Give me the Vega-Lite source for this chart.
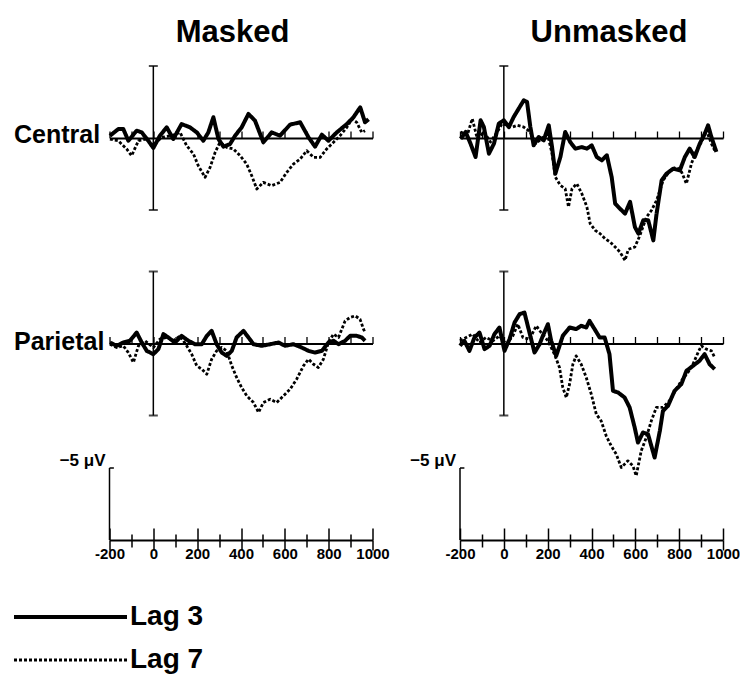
{
  "$schema": "https://vega.github.io/schema/vega-lite/v6.json",
  "background": "white",
  "padding": {"left": 12, "top": 17, "right": 0, "bottom": 0},
  "config": {"view": {"stroke": null}, "font": "Liberation Sans"},
  "datasets": {
    "masked_central": [
      {"lag":"Lag 3","ms":-198,"uv":-0.16},{"lag":"Lag 3","ms":-160,"uv":-0.62},{"lag":"Lag 3","ms":-137,"uv":-0.62},{"lag":"Lag 3","ms":-114,"uv":0.19},{"lag":"Lag 3","ms":-76,"uv":-0.51},{"lag":"Lag 3","ms":-53,"uv":-0.39},{"lag":"Lag 3","ms":-23,"uv":0.19},{"lag":"Lag 3","ms":0,"uv":0.69},{"lag":"Lag 3","ms":30,"uv":-0.16},{"lag":"Lag 3","ms":61,"uv":-0.74},{"lag":"Lag 3","ms":91,"uv":0.07},{"lag":"Lag 3","ms":129,"uv":-0.97},{"lag":"Lag 3","ms":167,"uv":-0.74},{"lag":"Lag 3","ms":198,"uv":-0.39},{"lag":"Lag 3","ms":228,"uv":0.19},{"lag":"Lag 3","ms":251,"uv":-0.39},{"lag":"Lag 3","ms":274,"uv":-1.44},{"lag":"Lag 3","ms":297,"uv":0.07},{"lag":"Lag 3","ms":320,"uv":0.6},{"lag":"Lag 3","ms":350,"uv":0.42},{"lag":"Lag 3","ms":373,"uv":-0.16},{"lag":"Lag 3","ms":403,"uv":-0.74},{"lag":"Lag 3","ms":434,"uv":-1.67},{"lag":"Lag 3","ms":464,"uv":-1.2},{"lag":"Lag 3","ms":502,"uv":0.3},{"lag":"Lag 3","ms":540,"uv":-0.39},{"lag":"Lag 3","ms":578,"uv":-0.16},{"lag":"Lag 3","ms":624,"uv":-0.93},{"lag":"Lag 3","ms":670,"uv":-1.09},{"lag":"Lag 3","ms":708,"uv":-0.05},{"lag":"Lag 3","ms":738,"uv":0.6},{"lag":"Lag 3","ms":769,"uv":-0.23},{"lag":"Lag 3","ms":799,"uv":0.19},{"lag":"Lag 3","ms":837,"uv":-0.39},{"lag":"Lag 3","ms":883,"uv":-0.97},{"lag":"Lag 3","ms":913,"uv":-1.44},{"lag":"Lag 3","ms":944,"uv":-2.13},{"lag":"Lag 3","ms":966,"uv":-1.09},{"lag":"Lag 3","ms":982,"uv":-1.3},
      {"lag":"Lag 7","ms":-198,"uv":0.07},{"lag":"Lag 7","ms":-160,"uv":0.19},{"lag":"Lag 7","ms":-122,"uv":0.76},{"lag":"Lag 7","ms":-99,"uv":1.23},{"lag":"Lag 7","ms":-68,"uv":0.19},{"lag":"Lag 7","ms":-30,"uv":0.07},{"lag":"Lag 7","ms":0,"uv":0.53},{"lag":"Lag 7","ms":38,"uv":-0.05},{"lag":"Lag 7","ms":84,"uv":-0.16},{"lag":"Lag 7","ms":122,"uv":-0.39},{"lag":"Lag 7","ms":152,"uv":0.53},{"lag":"Lag 7","ms":183,"uv":1.11},{"lag":"Lag 7","ms":205,"uv":1.92},{"lag":"Lag 7","ms":236,"uv":2.73},{"lag":"Lag 7","ms":259,"uv":2.04},{"lag":"Lag 7","ms":282,"uv":1.0},{"lag":"Lag 7","ms":304,"uv":0.3},{"lag":"Lag 7","ms":335,"uv":0.65},{"lag":"Lag 7","ms":365,"uv":0.76},{"lag":"Lag 7","ms":396,"uv":1.23},{"lag":"Lag 7","ms":426,"uv":1.81},{"lag":"Lag 7","ms":449,"uv":2.62},{"lag":"Lag 7","ms":472,"uv":3.54},{"lag":"Lag 7","ms":502,"uv":3.08},{"lag":"Lag 7","ms":540,"uv":3.31},{"lag":"Lag 7","ms":578,"uv":3.08},{"lag":"Lag 7","ms":609,"uv":2.38},{"lag":"Lag 7","ms":639,"uv":1.81},{"lag":"Lag 7","ms":670,"uv":1.46},{"lag":"Lag 7","ms":700,"uv":0.88},{"lag":"Lag 7","ms":731,"uv":1.34},{"lag":"Lag 7","ms":761,"uv":1.34},{"lag":"Lag 7","ms":791,"uv":0.76},{"lag":"Lag 7","ms":822,"uv":0.3},{"lag":"Lag 7","ms":852,"uv":-0.16},{"lag":"Lag 7","ms":883,"uv":-0.74},{"lag":"Lag 7","ms":906,"uv":-1.32},{"lag":"Lag 7","ms":928,"uv":-1.09},{"lag":"Lag 7","ms":951,"uv":-0.39},{"lag":"Lag 7","ms":966,"uv":-0.51}
    ],
    "unmasked_central": [
      {"lag":"Lag 3","ms":-197,"uv":0.05},{"lag":"Lag 3","ms":-174,"uv":-0.42},{"lag":"Lag 3","ms":-152,"uv":0.39},{"lag":"Lag 3","ms":-129,"uv":1.32},{"lag":"Lag 3","ms":-106,"uv":-1.23},{"lag":"Lag 3","ms":-91,"uv":-0.76},{"lag":"Lag 3","ms":-68,"uv":1.09},{"lag":"Lag 3","ms":-45,"uv":0.39},{"lag":"Lag 3","ms":-23,"uv":-1.0},{"lag":"Lag 3","ms":0,"uv":-1.23},{"lag":"Lag 3","ms":23,"uv":-0.76},{"lag":"Lag 3","ms":45,"uv":-1.46},{"lag":"Lag 3","ms":68,"uv":-2.04},{"lag":"Lag 3","ms":91,"uv":-2.62},{"lag":"Lag 3","ms":106,"uv":-2.5},{"lag":"Lag 3","ms":121,"uv":-0.76},{"lag":"Lag 3","ms":136,"uv":0.51},{"lag":"Lag 3","ms":159,"uv":-0.07},{"lag":"Lag 3","ms":182,"uv":0.16},{"lag":"Lag 3","ms":205,"uv":-0.88},{"lag":"Lag 3","ms":220,"uv":0.63},{"lag":"Lag 3","ms":235,"uv":2.48},{"lag":"Lag 3","ms":258,"uv":1.32},{"lag":"Lag 3","ms":280,"uv":-0.42},{"lag":"Lag 3","ms":303,"uv":0.28},{"lag":"Lag 3","ms":326,"uv":0.74},{"lag":"Lag 3","ms":356,"uv":0.63},{"lag":"Lag 3","ms":379,"uv":0.74},{"lag":"Lag 3","ms":401,"uv":0.51},{"lag":"Lag 3","ms":424,"uv":1.32},{"lag":"Lag 3","ms":447,"uv":1.55},{"lag":"Lag 3","ms":470,"uv":1.2},{"lag":"Lag 3","ms":492,"uv":2.71},{"lag":"Lag 3","ms":508,"uv":4.56},{"lag":"Lag 3","ms":530,"uv":4.91},{"lag":"Lag 3","ms":553,"uv":5.25},{"lag":"Lag 3","ms":576,"uv":4.44},{"lag":"Lag 3","ms":598,"uv":6.18},{"lag":"Lag 3","ms":614,"uv":6.64},{"lag":"Lag 3","ms":636,"uv":5.72},{"lag":"Lag 3","ms":659,"uv":5.72},{"lag":"Lag 3","ms":682,"uv":7.11},{"lag":"Lag 3","ms":697,"uv":5.25},{"lag":"Lag 3","ms":720,"uv":2.94},{"lag":"Lag 3","ms":742,"uv":2.48},{"lag":"Lag 3","ms":773,"uv":2.13},{"lag":"Lag 3","ms":803,"uv":2.25},{"lag":"Lag 3","ms":826,"uv":1.32},{"lag":"Lag 3","ms":848,"uv":0.74},{"lag":"Lag 3","ms":871,"uv":1.32},{"lag":"Lag 3","ms":894,"uv":0.39},{"lag":"Lag 3","ms":917,"uv":-0.3},{"lag":"Lag 3","ms":932,"uv":-0.88},{"lag":"Lag 3","ms":947,"uv":-0.07},{"lag":"Lag 3","ms":970,"uv":0.97},
      {"lag":"Lag 7","ms":-197,"uv":-0.42},{"lag":"Lag 7","ms":-167,"uv":-0.19},{"lag":"Lag 7","ms":-144,"uv":-1.34},{"lag":"Lag 7","ms":-121,"uv":0.05},{"lag":"Lag 7","ms":-91,"uv":-0.42},{"lag":"Lag 7","ms":-61,"uv":0.28},{"lag":"Lag 7","ms":-30,"uv":-0.42},{"lag":"Lag 7","ms":-8,"uv":-1.0},{"lag":"Lag 7","ms":15,"uv":-0.88},{"lag":"Lag 7","ms":38,"uv":-0.76},{"lag":"Lag 7","ms":61,"uv":-0.88},{"lag":"Lag 7","ms":91,"uv":-0.76},{"lag":"Lag 7","ms":121,"uv":-0.42},{"lag":"Lag 7","ms":144,"uv":0.39},{"lag":"Lag 7","ms":174,"uv":0.05},{"lag":"Lag 7","ms":197,"uv":-0.42},{"lag":"Lag 7","ms":220,"uv":1.09},{"lag":"Lag 7","ms":235,"uv":2.71},{"lag":"Lag 7","ms":258,"uv":3.29},{"lag":"Lag 7","ms":280,"uv":3.52},{"lag":"Lag 7","ms":295,"uv":4.79},{"lag":"Lag 7","ms":311,"uv":3.52},{"lag":"Lag 7","ms":333,"uv":3.17},{"lag":"Lag 7","ms":356,"uv":3.87},{"lag":"Lag 7","ms":379,"uv":4.79},{"lag":"Lag 7","ms":394,"uv":5.95},{"lag":"Lag 7","ms":417,"uv":6.41},{"lag":"Lag 7","ms":439,"uv":6.64},{"lag":"Lag 7","ms":462,"uv":6.99},{"lag":"Lag 7","ms":485,"uv":7.22},{"lag":"Lag 7","ms":508,"uv":7.57},{"lag":"Lag 7","ms":530,"uv":7.92},{"lag":"Lag 7","ms":553,"uv":8.5},{"lag":"Lag 7","ms":568,"uv":7.73},{"lag":"Lag 7","ms":598,"uv":7.57},{"lag":"Lag 7","ms":621,"uv":6.76},{"lag":"Lag 7","ms":651,"uv":5.49},{"lag":"Lag 7","ms":674,"uv":5.02},{"lag":"Lag 7","ms":697,"uv":4.33},{"lag":"Lag 7","ms":727,"uv":2.94},{"lag":"Lag 7","ms":758,"uv":2.25},{"lag":"Lag 7","ms":788,"uv":2.01},{"lag":"Lag 7","ms":811,"uv":2.36},{"lag":"Lag 7","ms":833,"uv":3.17},{"lag":"Lag 7","ms":856,"uv":1.78},{"lag":"Lag 7","ms":879,"uv":0.86},{"lag":"Lag 7","ms":902,"uv":0.28},{"lag":"Lag 7","ms":924,"uv":-0.53},{"lag":"Lag 7","ms":947,"uv":0.39},{"lag":"Lag 7","ms":962,"uv":0.86}
    ],
    "masked_parietal": [
      {"lag":"Lag 3","ms":-198,"uv":-0.07},{"lag":"Lag 3","ms":-167,"uv":0.16},{"lag":"Lag 3","ms":-137,"uv":-0.07},{"lag":"Lag 3","ms":-107,"uv":-0.19},{"lag":"Lag 3","ms":-76,"uv":-0.76},{"lag":"Lag 3","ms":-53,"uv":-0.07},{"lag":"Lag 3","ms":-30,"uv":0.51},{"lag":"Lag 3","ms":0,"uv":0.74},{"lag":"Lag 3","ms":23,"uv":0.39},{"lag":"Lag 3","ms":46,"uv":-0.65},{"lag":"Lag 3","ms":68,"uv":-0.42},{"lag":"Lag 3","ms":99,"uv":-0.07},{"lag":"Lag 3","ms":129,"uv":-0.53},{"lag":"Lag 3","ms":160,"uv":-0.19},{"lag":"Lag 3","ms":190,"uv":0.05},{"lag":"Lag 3","ms":221,"uv":0.05},{"lag":"Lag 3","ms":244,"uv":-0.53},{"lag":"Lag 3","ms":266,"uv":-0.88},{"lag":"Lag 3","ms":289,"uv":0.05},{"lag":"Lag 3","ms":312,"uv":0.63},{"lag":"Lag 3","ms":335,"uv":0.86},{"lag":"Lag 3","ms":358,"uv":0.51},{"lag":"Lag 3","ms":380,"uv":-0.42},{"lag":"Lag 3","ms":411,"uv":-0.88},{"lag":"Lag 3","ms":434,"uv":-0.42},{"lag":"Lag 3","ms":457,"uv":0.05},{"lag":"Lag 3","ms":495,"uv":0.16},{"lag":"Lag 3","ms":533,"uv":0.05},{"lag":"Lag 3","ms":571,"uv":-0.07},{"lag":"Lag 3","ms":601,"uv":0.16},{"lag":"Lag 3","ms":639,"uv":0.05},{"lag":"Lag 3","ms":677,"uv":0.28},{"lag":"Lag 3","ms":708,"uv":0.51},{"lag":"Lag 3","ms":738,"uv":0.63},{"lag":"Lag 3","ms":769,"uv":0.51},{"lag":"Lag 3","ms":799,"uv":-0.07},{"lag":"Lag 3","ms":822,"uv":-0.19},{"lag":"Lag 3","ms":845,"uv":0.05},{"lag":"Lag 3","ms":875,"uv":-0.19},{"lag":"Lag 3","ms":898,"uv":-0.53},{"lag":"Lag 3","ms":928,"uv":-0.53},{"lag":"Lag 3","ms":951,"uv":-0.42},{"lag":"Lag 3","ms":966,"uv":-0.19},
      {"lag":"Lag 7","ms":-198,"uv":0.05},{"lag":"Lag 7","ms":-167,"uv":0.28},{"lag":"Lag 7","ms":-137,"uv":0.16},{"lag":"Lag 7","ms":-114,"uv":0.63},{"lag":"Lag 7","ms":-91,"uv":1.32},{"lag":"Lag 7","ms":-68,"uv":0.16},{"lag":"Lag 7","ms":-38,"uv":-0.19},{"lag":"Lag 7","ms":0,"uv":0.28},{"lag":"Lag 7","ms":30,"uv":-0.3},{"lag":"Lag 7","ms":61,"uv":-0.42},{"lag":"Lag 7","ms":91,"uv":-0.19},{"lag":"Lag 7","ms":122,"uv":-0.53},{"lag":"Lag 7","ms":152,"uv":0.16},{"lag":"Lag 7","ms":175,"uv":0.74},{"lag":"Lag 7","ms":198,"uv":1.55},{"lag":"Lag 7","ms":221,"uv":1.78},{"lag":"Lag 7","ms":244,"uv":2.13},{"lag":"Lag 7","ms":266,"uv":1.09},{"lag":"Lag 7","ms":289,"uv":0.51},{"lag":"Lag 7","ms":312,"uv":0.28},{"lag":"Lag 7","ms":335,"uv":0.51},{"lag":"Lag 7","ms":358,"uv":1.55},{"lag":"Lag 7","ms":380,"uv":2.36},{"lag":"Lag 7","ms":403,"uv":3.06},{"lag":"Lag 7","ms":426,"uv":3.63},{"lag":"Lag 7","ms":457,"uv":4.1},{"lag":"Lag 7","ms":480,"uv":4.79},{"lag":"Lag 7","ms":502,"uv":4.1},{"lag":"Lag 7","ms":533,"uv":3.87},{"lag":"Lag 7","ms":563,"uv":4.1},{"lag":"Lag 7","ms":594,"uv":3.63},{"lag":"Lag 7","ms":624,"uv":3.17},{"lag":"Lag 7","ms":654,"uv":2.48},{"lag":"Lag 7","ms":685,"uv":1.55},{"lag":"Lag 7","ms":708,"uv":1.09},{"lag":"Lag 7","ms":731,"uv":1.44},{"lag":"Lag 7","ms":753,"uv":1.67},{"lag":"Lag 7","ms":776,"uv":1.09},{"lag":"Lag 7","ms":799,"uv":-0.07},{"lag":"Lag 7","ms":822,"uv":-0.65},{"lag":"Lag 7","ms":845,"uv":-0.42},{"lag":"Lag 7","ms":875,"uv":-1.57},{"lag":"Lag 7","ms":898,"uv":-1.81},{"lag":"Lag 7","ms":921,"uv":-1.92},{"lag":"Lag 7","ms":943,"uv":-1.69},{"lag":"Lag 7","ms":959,"uv":-1.0},{"lag":"Lag 7","ms":966,"uv":-0.76}
    ],
    "unmasked_parietal": [
      {"lag":"Lag 3","ms":-200,"uv":0.16},{"lag":"Lag 3","ms":-180,"uv":-0.19},{"lag":"Lag 3","ms":-157,"uv":0.51},{"lag":"Lag 3","ms":-134,"uv":-0.42},{"lag":"Lag 3","ms":-111,"uv":-0.76},{"lag":"Lag 3","ms":-88,"uv":0.39},{"lag":"Lag 3","ms":-65,"uv":0.16},{"lag":"Lag 3","ms":-43,"uv":-0.65},{"lag":"Lag 3","ms":-20,"uv":-1.11},{"lag":"Lag 3","ms":3,"uv":0.51},{"lag":"Lag 3","ms":26,"uv":-0.3},{"lag":"Lag 3","ms":49,"uv":-1.46},{"lag":"Lag 3","ms":72,"uv":-2.04},{"lag":"Lag 3","ms":94,"uv":-2.15},{"lag":"Lag 3","ms":117,"uv":-0.76},{"lag":"Lag 3","ms":140,"uv":0.63},{"lag":"Lag 3","ms":163,"uv":0.05},{"lag":"Lag 3","ms":178,"uv":-0.53},{"lag":"Lag 3","ms":201,"uv":-1.34},{"lag":"Lag 3","ms":216,"uv":-0.19},{"lag":"Lag 3","ms":239,"uv":0.86},{"lag":"Lag 3","ms":269,"uv":-0.53},{"lag":"Lag 3","ms":300,"uv":-1.11},{"lag":"Lag 3","ms":330,"uv":-1.0},{"lag":"Lag 3","ms":353,"uv":-1.23},{"lag":"Lag 3","ms":376,"uv":-1.11},{"lag":"Lag 3","ms":391,"uv":-1.57},{"lag":"Lag 3","ms":414,"uv":-1.0},{"lag":"Lag 3","ms":437,"uv":-0.42},{"lag":"Lag 3","ms":460,"uv":-0.42},{"lag":"Lag 3","ms":482,"uv":0.74},{"lag":"Lag 3","ms":498,"uv":3.29},{"lag":"Lag 3","ms":521,"uv":3.4},{"lag":"Lag 3","ms":551,"uv":3.75},{"lag":"Lag 3","ms":574,"uv":4.44},{"lag":"Lag 3","ms":597,"uv":5.83},{"lag":"Lag 3","ms":612,"uv":6.88},{"lag":"Lag 3","ms":635,"uv":6.18},{"lag":"Lag 3","ms":658,"uv":6.3},{"lag":"Lag 3","ms":688,"uv":7.92},{"lag":"Lag 3","ms":712,"uv":6.06},{"lag":"Lag 3","ms":726,"uv":4.68},{"lag":"Lag 3","ms":749,"uv":4.33},{"lag":"Lag 3","ms":779,"uv":3.29},{"lag":"Lag 3","ms":810,"uv":2.82},{"lag":"Lag 3","ms":833,"uv":1.9},{"lag":"Lag 3","ms":863,"uv":1.55},{"lag":"Lag 3","ms":893,"uv":1.2},{"lag":"Lag 3","ms":916,"uv":0.74},{"lag":"Lag 3","ms":939,"uv":1.44},{"lag":"Lag 3","ms":962,"uv":1.78},
      {"lag":"Lag 7","ms":-200,"uv":-0.19},{"lag":"Lag 7","ms":-172,"uv":-0.42},{"lag":"Lag 7","ms":-142,"uv":-0.65},{"lag":"Lag 7","ms":-111,"uv":-0.07},{"lag":"Lag 7","ms":-81,"uv":-0.42},{"lag":"Lag 7","ms":-50,"uv":-0.19},{"lag":"Lag 7","ms":-20,"uv":-0.53},{"lag":"Lag 7","ms":11,"uv":0.05},{"lag":"Lag 7","ms":41,"uv":-0.53},{"lag":"Lag 7","ms":64,"uv":-1.34},{"lag":"Lag 7","ms":87,"uv":-0.42},{"lag":"Lag 7","ms":117,"uv":-0.3},{"lag":"Lag 7","ms":148,"uv":-1.23},{"lag":"Lag 7","ms":170,"uv":-0.76},{"lag":"Lag 7","ms":201,"uv":-0.19},{"lag":"Lag 7","ms":231,"uv":0.74},{"lag":"Lag 7","ms":254,"uv":1.67},{"lag":"Lag 7","ms":269,"uv":3.06},{"lag":"Lag 7","ms":285,"uv":3.75},{"lag":"Lag 7","ms":300,"uv":2.82},{"lag":"Lag 7","ms":315,"uv":1.44},{"lag":"Lag 7","ms":330,"uv":0.86},{"lag":"Lag 7","ms":353,"uv":1.44},{"lag":"Lag 7","ms":376,"uv":2.36},{"lag":"Lag 7","ms":399,"uv":3.52},{"lag":"Lag 7","ms":422,"uv":4.91},{"lag":"Lag 7","ms":444,"uv":5.37},{"lag":"Lag 7","ms":467,"uv":6.41},{"lag":"Lag 7","ms":490,"uv":7.11},{"lag":"Lag 7","ms":513,"uv":7.69},{"lag":"Lag 7","ms":536,"uv":8.61},{"lag":"Lag 7","ms":566,"uv":8.15},{"lag":"Lag 7","ms":589,"uv":8.5},{"lag":"Lag 7","ms":604,"uv":9.19},{"lag":"Lag 7","ms":627,"uv":7.45},{"lag":"Lag 7","ms":650,"uv":6.53},{"lag":"Lag 7","ms":673,"uv":5.37},{"lag":"Lag 7","ms":696,"uv":4.44},{"lag":"Lag 7","ms":726,"uv":4.44},{"lag":"Lag 7","ms":756,"uv":3.98},{"lag":"Lag 7","ms":787,"uv":3.17},{"lag":"Lag 7","ms":810,"uv":2.59},{"lag":"Lag 7","ms":840,"uv":2.01},{"lag":"Lag 7","ms":863,"uv":1.44},{"lag":"Lag 7","ms":886,"uv":0.63},{"lag":"Lag 7","ms":901,"uv":0.16},{"lag":"Lag 7","ms":924,"uv":0.39},{"lag":"Lag 7","ms":947,"uv":0.51},{"lag":"Lag 7","ms":962,"uv":0.97}
    ],
    "lags": [{"lag": "Lag 3"}, {"lag": "Lag 7"}]
  },
  "vconcat": [
    {
      "columns": 3,
      "spacing": {"row": 52.5, "column": 87.5},
      "bounds": "flush",
      "concat": [
        {
          "width": 8, "height": 152.64,
          "data": {"values": [{"label": "Central"}]},
          "mark": {"type": "text", "align": "left", "baseline": "middle", "dy": -3, "fontSize": 25, "fontWeight": "bold", "color": "black"},
          "encoding": {
            "x": {"datum": 0, "type": "quantitative", "scale": {"domain": [0, 1], "nice": false}, "axis": null},
            "y": {"datum": 0, "type": "quantitative", "scale": {"domain": [-5, 5.6], "reverse": true, "nice": false, "zero": false}, "axis": null},
            "text": {"field": "label"}
          }
        },
        {
          "width": 263, "height": 152.64,
          "title": {"text": "Masked", "fontSize": 31, "fontWeight": "bold", "color": "black", "anchor": "middle", "dx": -8.5, "baseline": "alphabetic", "offset": -8},
          "layer": [
            {
              "data": {"name": "masked_central"},
              "mark": {"type": "line", "strokeJoin": "round", "color": "black"},
              "encoding": {
                "x": {"field": "ms", "type": "quantitative", "scale": {"domain": [-200, 1000], "nice": false, "zero": false},
                      "axis": {"orient": "top", "offset": -72, "values": [-200,-100,0,100,200,300,400,500,600,700,800,900,1000], "labels": false, "title": null, "grid": false, "domain": true, "domainColor": "black", "domainWidth": 1.8, "ticks": true, "tickSize": 7, "tickColor": "black", "tickWidth": 1.3}},
                "y": {"field": "uv", "type": "quantitative", "scale": {"domain": [-5, 5.6], "reverse": true, "nice": false, "zero": false}, "axis": null},
                "strokeDash": {"field": "lag", "type": "nominal", "scale": {"domain": ["Lag 3", "Lag 7"], "range": [[1, 0], [3, 2]]}, "legend": null},
                "strokeWidth": {"condition": {"test": "datum.lag === 'Lag 3'", "value": 4}, "value": 2.8}
              }
            },
            {
              "data": {"values": [{}]},
              "mark": {"type": "rule", "color": "black", "strokeWidth": 1.5},
              "encoding": {
                "x": {"datum": 0, "type": "quantitative",
                      "axis": {"orient": "top", "offset": -72, "values": [-200,-100,0,100,200,300,400,500,600,700,800,900,1000], "labels": false, "title": null, "grid": false, "domain": true, "domainColor": "black", "domainWidth": 1.8, "ticks": true, "tickSize": 7, "tickColor": "black", "tickWidth": 1.3}},
                "y": {"datum": -5, "type": "quantitative", "axis": null},
                "y2": {"datum": 5}
              }
            },
            {
              "data": {"values": [{"cap": -5}, {"cap": 5}]},
              "mark": {"type": "tick", "orient": "horizontal", "size": 9, "thickness": 2, "color": "black"},
              "encoding": {
                "x": {"datum": 0, "type": "quantitative",
                      "axis": {"orient": "top", "offset": -72, "values": [-200,-100,0,100,200,300,400,500,600,700,800,900,1000], "labels": false, "title": null, "grid": false, "domain": true, "domainColor": "black", "domainWidth": 1.8, "ticks": true, "tickSize": 7, "tickColor": "black", "tickWidth": 1.3}},
                "y": {"field": "cap", "type": "quantitative", "axis": null}
              }
            }
          ]
        },
        {
          "width": 263, "height": 152.64,
          "title": {"text": "Unmasked", "fontSize": 31, "fontWeight": "bold", "color": "black", "anchor": "middle", "dx": 17.5, "baseline": "alphabetic", "offset": -8},
          "layer": [
            {
              "data": {"name": "unmasked_central"},
              "mark": {"type": "line", "strokeJoin": "round", "color": "black"},
              "encoding": {
                "x": {"field": "ms", "type": "quantitative", "scale": {"domain": [-200, 1000], "nice": false, "zero": false},
                      "axis": {"orient": "top", "offset": -72, "values": [-200,-100,0,100,200,300,400,500,600,700,800,900,1000], "labels": false, "title": null, "grid": false, "domain": true, "domainColor": "black", "domainWidth": 1.8, "ticks": true, "tickSize": 7, "tickColor": "black", "tickWidth": 1.3}},
                "y": {"field": "uv", "type": "quantitative", "scale": {"domain": [-5, 5.6], "reverse": true, "nice": false, "zero": false}, "axis": null},
                "strokeDash": {"field": "lag", "type": "nominal", "scale": {"domain": ["Lag 3", "Lag 7"], "range": [[1, 0], [3, 2]]}, "legend": null},
                "strokeWidth": {"condition": {"test": "datum.lag === 'Lag 3'", "value": 4}, "value": 2.8}
              }
            },
            {
              "data": {"values": [{}]},
              "mark": {"type": "rule", "color": "black", "strokeWidth": 1.5},
              "encoding": {
                "x": {"datum": 0, "type": "quantitative",
                      "axis": {"orient": "top", "offset": -72, "values": [-200,-100,0,100,200,300,400,500,600,700,800,900,1000], "labels": false, "title": null, "grid": false, "domain": true, "domainColor": "black", "domainWidth": 1.8, "ticks": true, "tickSize": 7, "tickColor": "black", "tickWidth": 1.3}},
                "y": {"datum": -5, "type": "quantitative", "axis": null},
                "y2": {"datum": 5}
              }
            },
            {
              "data": {"values": [{"cap": -5}, {"cap": 5}]},
              "mark": {"type": "tick", "orient": "horizontal", "size": 9, "thickness": 2, "color": "black"},
              "encoding": {
                "x": {"datum": 0, "type": "quantitative",
                      "axis": {"orient": "top", "offset": -72, "values": [-200,-100,0,100,200,300,400,500,600,700,800,900,1000], "labels": false, "title": null, "grid": false, "domain": true, "domainColor": "black", "domainWidth": 1.8, "ticks": true, "tickSize": 7, "tickColor": "black", "tickWidth": 1.3}},
                "y": {"field": "cap", "type": "quantitative", "axis": null}
              }
            }
          ]
        },
        {
          "width": 8, "height": 144,
          "data": {"values": [{"label": "Parietal"}]},
          "mark": {"type": "text", "align": "left", "baseline": "middle", "dy": -2, "fontSize": 25, "fontWeight": "bold", "color": "black"},
          "encoding": {
            "x": {"datum": 0, "type": "quantitative", "scale": {"domain": [0, 1], "nice": false}, "axis": null},
            "y": {"datum": 0, "type": "quantitative", "scale": {"domain": [-5, 5], "reverse": true, "nice": false, "zero": false}, "axis": null},
            "text": {"field": "label"}
          }
        },
        {
          "width": 263, "height": 144,
          "layer": [
            {
              "data": {"name": "masked_parietal"},
              "mark": {"type": "line", "strokeJoin": "round", "color": "black"},
              "encoding": {
                "x": {"field": "ms", "type": "quantitative", "scale": {"domain": [-200, 1000], "nice": false, "zero": false},
                      "axis": {"orient": "top", "offset": -72, "values": [-200,-100,0,100,200,300,400,500,600,700,800,900,1000], "labels": false, "title": null, "grid": false, "domain": true, "domainColor": "black", "domainWidth": 1.8, "ticks": true, "tickSize": 7, "tickColor": "black", "tickWidth": 1.3}},
                "y": {"field": "uv", "type": "quantitative", "scale": {"domain": [-5, 5], "reverse": true, "nice": false, "zero": false}, "axis": null},
                "strokeDash": {"field": "lag", "type": "nominal", "scale": {"domain": ["Lag 3", "Lag 7"], "range": [[1, 0], [3, 2]]}, "legend": null},
                "strokeWidth": {"condition": {"test": "datum.lag === 'Lag 3'", "value": 4}, "value": 2.8}
              }
            },
            {
              "data": {"values": [{}]},
              "mark": {"type": "rule", "color": "black", "strokeWidth": 1.5},
              "encoding": {
                "x": {"datum": 0, "type": "quantitative",
                      "axis": {"orient": "top", "offset": -72, "values": [-200,-100,0,100,200,300,400,500,600,700,800,900,1000], "labels": false, "title": null, "grid": false, "domain": true, "domainColor": "black", "domainWidth": 1.8, "ticks": true, "tickSize": 7, "tickColor": "black", "tickWidth": 1.3}},
                "y": {"datum": -5, "type": "quantitative", "axis": null},
                "y2": {"datum": 5}
              }
            },
            {
              "data": {"values": [{"cap": -5}, {"cap": 5}]},
              "mark": {"type": "tick", "orient": "horizontal", "size": 9, "thickness": 2, "color": "black"},
              "encoding": {
                "x": {"datum": 0, "type": "quantitative",
                      "axis": {"orient": "top", "offset": -72, "values": [-200,-100,0,100,200,300,400,500,600,700,800,900,1000], "labels": false, "title": null, "grid": false, "domain": true, "domainColor": "black", "domainWidth": 1.8, "ticks": true, "tickSize": 7, "tickColor": "black", "tickWidth": 1.3}},
                "y": {"field": "cap", "type": "quantitative", "axis": null}
              }
            }
          ]
        },
        {
          "width": 263, "height": 144,
          "layer": [
            {
              "data": {"name": "unmasked_parietal"},
              "mark": {"type": "line", "strokeJoin": "round", "color": "black"},
              "encoding": {
                "x": {"field": "ms", "type": "quantitative", "scale": {"domain": [-200, 1000], "nice": false, "zero": false},
                      "axis": {"orient": "top", "offset": -72, "values": [-200,-100,0,100,200,300,400,500,600,700,800,900,1000], "labels": false, "title": null, "grid": false, "domain": true, "domainColor": "black", "domainWidth": 1.8, "ticks": true, "tickSize": 7, "tickColor": "black", "tickWidth": 1.3}},
                "y": {"field": "uv", "type": "quantitative", "scale": {"domain": [-5, 5], "reverse": true, "nice": false, "zero": false}, "axis": null},
                "strokeDash": {"field": "lag", "type": "nominal", "scale": {"domain": ["Lag 3", "Lag 7"], "range": [[1, 0], [3, 2]]}, "legend": null},
                "strokeWidth": {"condition": {"test": "datum.lag === 'Lag 3'", "value": 4}, "value": 2.8}
              }
            },
            {
              "data": {"values": [{}]},
              "mark": {"type": "rule", "color": "black", "strokeWidth": 1.5},
              "encoding": {
                "x": {"datum": 0, "type": "quantitative",
                      "axis": {"orient": "top", "offset": -72, "values": [-200,-100,0,100,200,300,400,500,600,700,800,900,1000], "labels": false, "title": null, "grid": false, "domain": true, "domainColor": "black", "domainWidth": 1.8, "ticks": true, "tickSize": 7, "tickColor": "black", "tickWidth": 1.3}},
                "y": {"datum": -5, "type": "quantitative", "axis": null},
                "y2": {"datum": 5}
              }
            },
            {
              "data": {"values": [{"cap": -5}, {"cap": 5}]},
              "mark": {"type": "tick", "orient": "horizontal", "size": 9, "thickness": 2, "color": "black"},
              "encoding": {
                "x": {"datum": 0, "type": "quantitative",
                      "axis": {"orient": "top", "offset": -72, "values": [-200,-100,0,100,200,300,400,500,600,700,800,900,1000], "labels": false, "title": null, "grid": false, "domain": true, "domainColor": "black", "domainWidth": 1.8, "ticks": true, "tickSize": 7, "tickColor": "black", "tickWidth": 1.3}},
                "y": {"field": "cap", "type": "quantitative", "axis": null}
              }
            }
          ]
        },
        {
          "width": 8, "height": 72,
          "data": {"values": []},
          "mark": {"type": "point", "opacity": 0}
        },
        {
          "width": 263, "height": 72,
          "data": {"values": [{}]},
          "layer": [
            {
              "mark": {"type": "rule", "color": "black", "strokeWidth": 1.5},
              "encoding": {
                "x": {"datum": -200, "type": "quantitative", "scale": {"domain": [-200, 1000], "nice": false, "zero": false},
                      "axis": {"orient": "bottom", "values": [-200,-100,0,100,200,300,400,500,600,700,800,900,1000], "title": null, "grid": false, "domain": true, "domainColor": "black", "domainWidth": 2, "ticks": true, "tickColor": "black", "tickWidth": 1.5, "tickSize": {"condition": {"test": "datum.value % 200 === 0", "value": 10}, "value": 7}, "labelExpr": "datum.value % 200 === 0 ? '' + datum.value : ''", "labelFontSize": 15, "labelFontWeight": "bold", "labelColor": "black", "labelPadding": -4, "labelFlush": false, "labelOverlap": false, "labelBound": false}},
                "y": {"datum": -5, "type": "quantitative", "scale": {"domain": [-5, 0], "reverse": true, "nice": false, "zero": false}, "axis": null},
                "y2": {"datum": 0}
              }
            },
            {
              "mark": {"type": "rule", "color": "black", "strokeWidth": 1.5},
              "encoding": {
                "x": {"datum": -200, "type": "quantitative",
                      "axis": {"orient": "top", "offset": -72, "values": [-200,-100,0,100,200,300,400,500,600,700,800,900,1000], "title": null, "grid": false, "domain": false, "labels": false, "ticks": true, "tickColor": "black", "tickWidth": 1.5, "tickSize": {"condition": {"test": "datum.value % 200 === 0", "value": 12}, "value": 6}}},
                "x2": {"datum": -180},
                "y": {"datum": -5, "type": "quantitative", "axis": null}
              }
            },
            {
              "mark": {"type": "text", "align": "right", "baseline": "middle", "dx": -4, "dy": -7, "fontSize": 17, "fontWeight": "bold", "color": "black"},
              "encoding": {
                "x": {"datum": -200, "type": "quantitative", "axis": null},
                "y": {"datum": -5, "type": "quantitative", "axis": null},
                "text": {"value": "−5 μV"}
              }
            }
          ],
          "resolve": {"axis": {"x": "independent"}}
        },
        {
          "width": 263, "height": 72,
          "data": {"values": [{}]},
          "layer": [
            {
              "mark": {"type": "rule", "color": "black", "strokeWidth": 1.5},
              "encoding": {
                "x": {"datum": -200, "type": "quantitative", "scale": {"domain": [-200, 1000], "nice": false, "zero": false},
                      "axis": {"orient": "bottom", "values": [-200,-100,0,100,200,300,400,500,600,700,800,900,1000], "title": null, "grid": false, "domain": true, "domainColor": "black", "domainWidth": 2, "ticks": true, "tickColor": "black", "tickWidth": 1.5, "tickSize": {"condition": {"test": "datum.value % 200 === 0", "value": 10}, "value": 7}, "labelExpr": "datum.value % 200 === 0 ? '' + datum.value : ''", "labelFontSize": 15, "labelFontWeight": "bold", "labelColor": "black", "labelPadding": -4, "labelFlush": false, "labelOverlap": false, "labelBound": false}},
                "y": {"datum": -5, "type": "quantitative", "scale": {"domain": [-5, 0], "reverse": true, "nice": false, "zero": false}, "axis": null},
                "y2": {"datum": 0}
              }
            },
            {
              "mark": {"type": "rule", "color": "black", "strokeWidth": 1.5},
              "encoding": {
                "x": {"datum": -200, "type": "quantitative",
                      "axis": {"orient": "top", "offset": -72, "values": [-200,-100,0,100,200,300,400,500,600,700,800,900,1000], "title": null, "grid": false, "domain": false, "labels": false, "ticks": true, "tickColor": "black", "tickWidth": 1.5, "tickSize": {"condition": {"test": "datum.value % 200 === 0", "value": 12}, "value": 6}}},
                "x2": {"datum": -180},
                "y": {"datum": -5, "type": "quantitative", "axis": null}
              }
            },
            {
              "mark": {"type": "text", "align": "right", "baseline": "middle", "dx": -4, "dy": -7, "fontSize": 17, "fontWeight": "bold", "color": "black"},
              "encoding": {
                "x": {"datum": -200, "type": "quantitative", "axis": null},
                "y": {"datum": -5, "type": "quantitative", "axis": null},
                "text": {"value": "−5 μV"}
              }
            }
          ],
          "resolve": {"axis": {"x": "independent"}}
        }
      ]
    },
    {
      "width": 113, "height": 43,
      "data": {"name": "lags"},
      "layer": [
        {
          "mark": {"type": "rule", "color": "black"},
          "encoding": {
            "x": {"datum": 0, "type": "quantitative", "scale": {"domain": [0, 1], "nice": false, "zero": false}, "axis": null},
            "x2": {"datum": 1},
            "y": {"field": "lag", "type": "nominal", "scale": {"type": "point", "padding": 0, "domain": ["Lag 3", "Lag 7"]}, "axis": null},
            "strokeDash": {"field": "lag", "type": "nominal", "scale": {"domain": ["Lag 3", "Lag 7"], "range": [[1, 0], [3, 2]]}, "legend": null},
            "strokeWidth": {"condition": {"test": "datum.lag === 'Lag 3'", "value": 4}, "value": 2.8}
          }
        },
        {
          "mark": {"type": "text", "align": "left", "baseline": "middle", "dx": 3, "fontSize": 28, "fontWeight": "bold", "color": "black"},
          "encoding": {
            "x": {"datum": 1, "type": "quantitative", "axis": null},
            "y": {"field": "lag", "type": "nominal", "axis": null},
            "text": {"field": "lag"}
          }
        }
      ]
    }
  ],
  "spacing": 42,
  "bounds": "full"
}
